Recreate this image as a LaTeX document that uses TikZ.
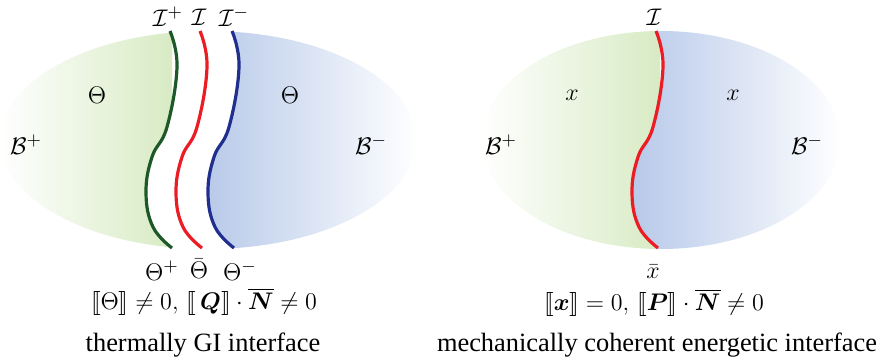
\documentclass[tikz,border=0pt]{standalone}
\usepackage{amsmath}
\usepackage{stmaryrd}
\usepackage[no-math]{fontspec}
\setmainfont{Liberation Serif}
\usepackage{bm}

\definecolor{bgreen}{RGB}{216,235,196}
\definecolor{bblue}{RGB}{182,200,233}
\definecolor{cgreen}{RGB}{28,88,40}
\definecolor{cred}{RGB}{236,28,36}
\definecolor{cblue}{RGB}{32,46,142}

% interface curve, top at (#1,31)
\newcommand{\iface}[1]{plot[smooth,tension=0.7] coordinates {(#1,31) ({#1+7},67) ({#1-3},127) ({#1-18},157) ({#1-24},193) ({#1-17},227) ({#1+2},248)}}

\begin{document}
\begin{tikzpicture}[x=0.5pt,y=-0.5pt,font=\fontsize{13.2}{16}\selectfont,
  lbl/.style={inner sep=0.5pt},
  curve/.style={line width=1.6pt}]
\useasboundingbox (0,0) rectangle (880,364);

% left body
\begin{scope}
\clip (208,140) ellipse [x radius=208, y radius=109];
\begin{scope}
\clip \iface{170} -- (172,260) -- (-5,260) -- (-5,20) -- (170,20) -- cycle;
\shade[left color=white, right color=bgreen] (0,20) rectangle (172,260);
\end{scope}
\begin{scope}
\clip \iface{232} -- (234,260) -- (420,260) -- (420,20) -- (232,20) -- cycle;
\shade[left color=bblue, right color=white] (200,20) rectangle (418,260);
\end{scope}
\end{scope}
\draw[curve,cgreen] \iface{170};
\draw[curve,cred] \iface{200};
\draw[curve,cblue] \iface{232};

\node[lbl] (ip) at (168,17) {$\mathcal{I}^+$};
\node[lbl] (i) at (199,17) {$\mathcal{I}$};
\node[lbl] (im) at (234,17) {$\mathcal{I}^-$};
\node[lbl] (thp) at (162,271) {$\Theta^+$};
\node[lbl] (thb) at (199,269) {$\bar{\Theta}$};
\node[lbl] (thm) at (240,271) {$\Theta^-$};
\node[lbl] (thl) at (97,95) {$\Theta$};
\node[lbl] (thr) at (290,95) {$\Theta$};
\node[lbl] (bpl) at (26,145) {$\mathcal{B}^+$};
\node[lbl] (bml) at (371,145) {$\mathcal{B}^-$};
\node[lbl] (eql) at (204,302) {$\llbracket\Theta\rrbracket\neq0,\,\llbracket\,\bm{Q}\rrbracket\cdot\overline{\bm{N}}\neq0$};
\node[lbl] (capl) at (203,345) {thermally GI interface};

% right body
\begin{scope}
\clip (661,140) ellipse [x radius=179, y radius=109];
\begin{scope}
\clip \iface{656} -- (658,260) -- (470,260) -- (470,20) -- (656,20) -- cycle;
\shade[left color=white, right color=bgreen] (482,20) rectangle (660,260);
\end{scope}
\begin{scope}
\clip \iface{656} -- (658,260) -- (850,260) -- (850,20) -- (656,20) -- cycle;
\shade[left color=bblue, right color=white] (628,20) rectangle (842,260);
\end{scope}
\end{scope}
\draw[curve,cred] \iface{656};

\node[lbl] (ir) at (654,17) {$\mathcal{I}$};
\node[lbl] (xb) at (653,272) {$\bar{x}$};
\node[lbl] (xl) at (572,95) {$x$};
\node[lbl] (xr) at (733,95) {$x$};
\node[lbl] (bpr) at (501,145) {$\mathcal{B}^+$};
\node[lbl] (bmr) at (807,145) {$\mathcal{B}^-$};
\node[lbl] (eqr) at (654,303) {$\llbracket\bm{x}\rrbracket=0,\,\llbracket\bm{P}\rrbracket\cdot\overline{\bm{N}}\neq0$};
\node[lbl] (capr) at (657,345) {mechanically coherent energetic interface};
\end{tikzpicture}
\end{document}
